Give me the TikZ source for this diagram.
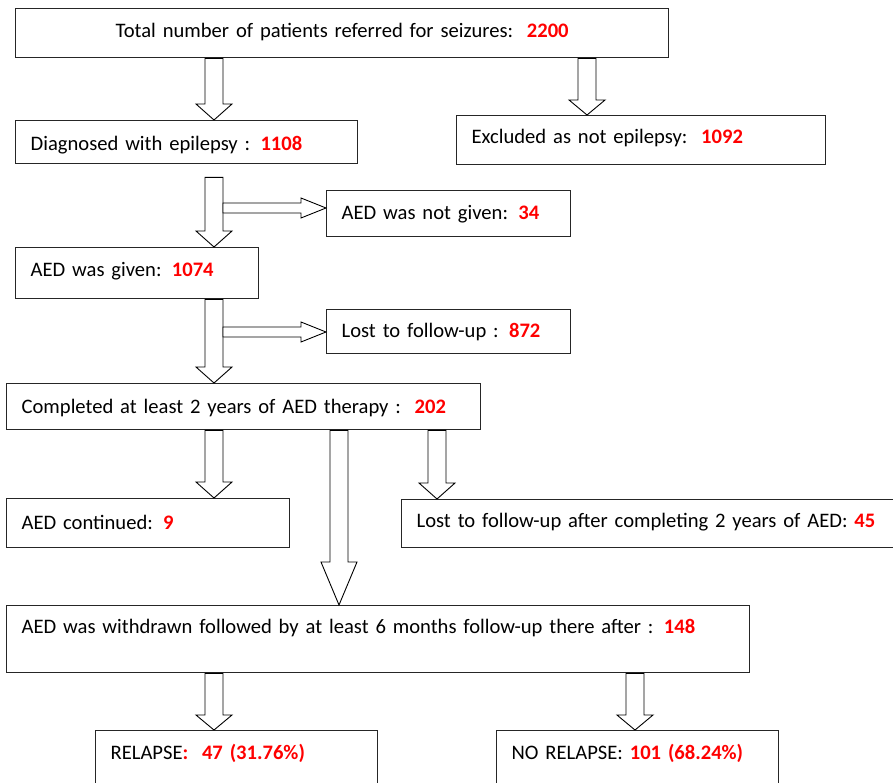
\documentclass[tikz,border=0pt]{standalone}
\usepackage{fontspec}
\setmainfont{Carlito}[WordSpace=0.8]
\usepackage{tikz}
\usetikzlibrary{calc}
\definecolor{numred}{RGB}{255,0,0}
\newcommand{\cnt}[1]{\textcolor{numred}{\textbf{#1}}}
\tikzset{
  box/.style={draw=black!85, line width=1.3pt, anchor=north west, inner xsep=15pt, inner ysep=0pt, align=left, font=\fontsize{20.6}{24}\selectfont},
  blockarr/.style={draw=black, line width=0.9pt, fill=white, line join=miter}
}
\newcommand{\downarr}[4][16]{%
  \draw[blockarr] let \p1=(#3), \p2=(#4) in
    (#2pt-9pt,\y1) -- (#2pt-9pt,\y2+#1pt) -- (#2pt-18pt,\y2+#1pt) -- (#2pt,\y2)
    -- (#2pt+18pt,\y2+#1pt) -- (#2pt+9pt,\y2+#1pt) -- (#2pt+9pt,\y1) -- cycle;}
\newcommand{\rightarr}[3]{%
  \draw[blockarr] let \p2=(#3.west) in
    (#1pt,#2pt+5pt) -- (\x2-25pt,#2pt+5pt) -- (\x2-25pt,#2pt+10pt) -- (\x2,#2pt)
    -- (\x2-25pt,#2pt-10pt) -- (\x2-25pt,#2pt-5pt) -- (#1pt,#2pt-5pt) -- cycle;}

\begin{document}
\begin{tikzpicture}[x=1pt, y=1pt]
    \clip (0,0) rectangle (893,-782);

    \node[box, align=center, minimum width=653pt, text width=623pt, text height=29pt, text depth=20pt] (total) at (15,-8) {Total number of patients referred for seizures:~~\cnt{2200}};
    \node[box, minimum width=342pt, text width=312pt, text height=30pt, text depth=13pt] (diag) at (15,-120) {Diagnosed with epilepsy : \cnt{1108}};
    \node[box, minimum width=369pt, text width=339pt, text height=28pt, text depth=21pt] (excl) at (456,-115) {Excluded as not epilepsy:~~\cnt{1092}};
    \node[box, minimum width=244pt, text width=214pt, text height=29pt, text depth=17pt] (notgiven) at (326,-190) {AED was not given: \cnt{34}};
    \node[box, minimum width=243pt, text width=213pt, text height=29pt, text depth=22pt] (given) at (15,-247) {AED was given: \cnt{1074}};
    \node[box, minimum width=244pt, text width=214pt, text height=28pt, text depth=16pt] (lost) at (326,-309) {Lost to follow-up : \cnt{872}};
    \node[box, minimum width=474pt, text width=444pt, text height=30pt, text depth=16pt] (compl) at (6,-383) {Completed at least 2 years of AED therapy :~~\cnt{202}};
    \node[box, minimum width=283pt, text width=253pt, text height=31pt, text depth=18pt] (cont) at (6,-498) {AED continued: \cnt{9}};
    \node[box, minimum width=490pt, text width=470pt, text height=28pt, text depth=20pt] (lostafter) at (401,-499) {Lost to follow-up after completing 2 years of AED: \cnt{45}};
    \node[box, minimum width=743pt, text width=713pt, text height=28pt, text depth=39pt] (withdrawn) at (6,-605) {AED was withdrawn followed by at least 6 months follow-up there after : \cnt{148}};
    \node[box, minimum width=282pt, text width=252pt, text height=29pt, text depth=41pt] (relapse) at (95,-730) {RELAPSE\cnt{:~~47 (31.76\%)}};
    \node[box, minimum width=282pt, text width=252pt, text height=29pt, text depth=41pt] (norelapse) at (496,-730) {NO RELAPSE: \cnt{101 (68.24\%)}};

    \downarr{214}{total.south}{diag.north}
    \downarr[15]{587}{total.south}{excl.north}
    \downarr{214}{$(diag.south)+(0,-13)$}{given.north}
    \rightarr{223}{-208}{notgiven}
    \downarr{214}{given.south}{compl.north}
    \rightarr{223}{-332}{lost}
    \downarr{214}{compl.south}{cont.north}
    \downarr[43]{339}{compl.south}{withdrawn.north}
    \downarr{437}{compl.south}{lostafter.north}
    \downarr[15]{214}{withdrawn.south}{relapse.north}
    \downarr[15]{635}{withdrawn.south}{norelapse.north}
\end{tikzpicture}
\end{document}
